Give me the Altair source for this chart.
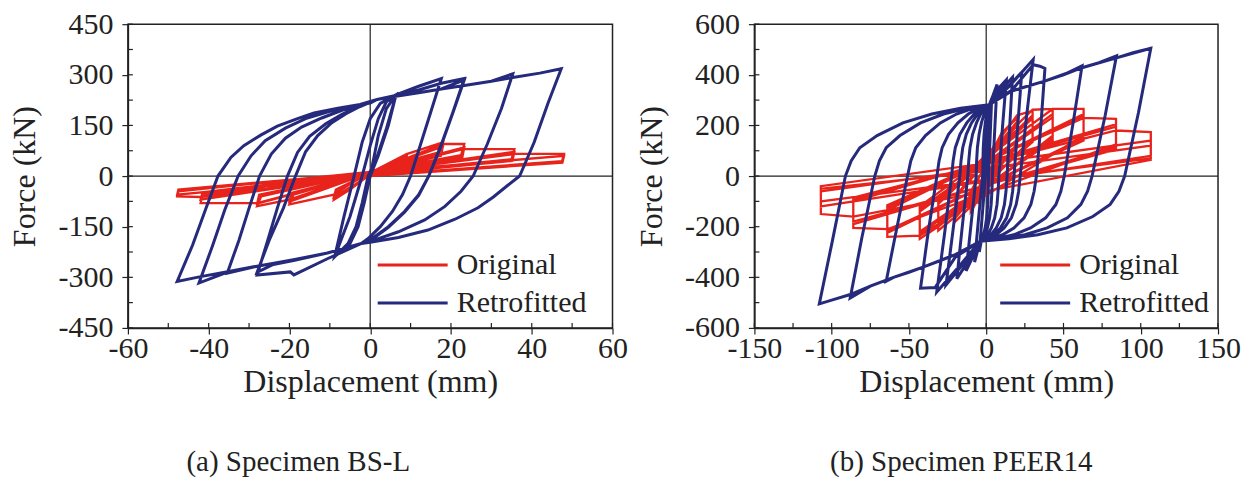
import altair as alt
import pandas as pd

RED = "#e8231c"
BLUE = "#262a7c"
INK = "#222222"
FONT = "Liberation Serif"
SERIES = ["Original", "Retrofitted"]

# ---------------- (a) Specimen BS-L : (displacement mm, force kN) -------------
bsl_original = [
    (0, 0), (5, 40), (9, 62), (8.5, 38), (0, 5), (-5, -40), (-9, -70), (-8.5, -45),
    (0, 8), (9, 58), (8.5, 35), (0, 2), (-9, -62), (-8.5, -40),
    (0, 10), (9, 65), (18, 100), (17, 70), (0, 15), (-9, -55), (-20, -84), (-19, -55),
    (0, 10), (18, 88), (17.5, 60), (0, 10), (-20, -76), (-19.5, -50),
    (0, 10), (18, 95), (23.3, 95), (22.5, 62), (0, 12), (-20, -70), (-28, -89), (-27, -60),
    (0, 12), (23.3, 85), (22.8, 55), (0, 8), (-28, -82), (-27.5, -55),
    (0, 12), (23, 80), (35.7, 80), (35, 50), (0, 8), (-28, -80), (-42, -80), (-41.5, -55),
    (0, 10), (35.7, 72), (35.2, 45), (0, 5), (-42, -70), (-41.5, -48),
    (0, 10), (36, 66), (48, 66), (47.5, 44), (0, 2), (-42, -62), (-47.8, -60), (-47.5, -45),
    (0, 12), (48, 60), (47.6, 40), (0, 0), (-47.8, -55), (-47.5, -40), (0, 10),
]

bsl_retrofitted = [
    (0, 0), (2, 120), (4, 200), (6.4, 241),
    (4, 140), (1.5, 50), (-0.5, 0), (-2, -80), (-3.5, -150), (-5.5, -200), (-8.8, -239),
    (-6.5, -120), (-4, 0), (-2, 100), (0, 170), (2.5, 215), (6.4, 241),
    (4.5, 150), (2, 60), (0, 0), (-1.5, -80), (-3, -150), (-5, -200), (-8.8, -239),
    (-5, -120), (-2, 0), (0, 90), (2, 170), (4, 220), (6.4, 241), (12, 266), (17.6, 289),
    (15, 190), (12.5, 95), (10, 0), (8, -55), (5.5, -105), (2.5, -150), (-0.5, -185), (-2.2, -200),
    (-10.6, -245), (-18.9, -293), (-19.8, -284), (-28, -293),
    (-25.5, -195), (-23, -95), (-20.5, 0), (-18, 70), (-15, 118), (-11, 155), (-7, 183), (-3, 205),
    (1.7, 227), (6, 238), (12, 255), (17.6, 275), (23.3, 289),
    (20.5, 190), (17.5, 90), (14.5, 0), (12, -55), (8.5, -105), (4.5, -150), (0.5, -185), (-2.2, -200),
    (-10.6, -228), (-19, -250), (-24, -262), (-28, -285),
    (-25, -190), (-21.5, -95), (-18.5, 0), (-16, 72), (-13, 120), (-9.5, 158), (-6, 185), (-2.5, 206),
    (1.7, 227), (6, 236), (12, 247), (17.6, 258), (23.3, 285),
    (20.5, 188), (17.5, 88), (14.5, 0), (12, -57), (8.5, -107), (4.5, -152), (0.5, -187), (-2.2, -200),
    (-10.6, -228), (-19, -248), (-28, -267), (-35.4, -288),
    (-32.5, -190), (-30, -95), (-27.4, 0), (-24.5, 65), (-21, 112), (-17, 145), (-12, 172), (-7, 195),
    (-2, 212), (1.7, 227), (6, 236), (12, 247), (17.6, 258), (23.3, 268), (30, 281), (35.3, 303),
    (32.5, 200), (29, 95), (25.5, 0), (22.5, -45), (18.5, -90), (13.5, -130), (7, -165), (1, -190),
    (-2.2, -200), (-10.6, -228), (-19, -248), (-28, -267), (-35, -283), (-42.4, -317),
    (-39, -205), (-36, -100), (-32.7, 0), (-29.5, 60), (-26, 105), (-21, 142), (-16, 170), (-10, 192),
    (-5, 206), (0, 216), (1.7, 227), (6, 236), (12, 247), (17.6, 258), (23.3, 268), (30, 281),
    (35.3, 292), (42, 305), (47.3, 318),
    (44, 215), (40.6, 100), (37, 0), (34, -28), (30.5, -62), (26.7, -94), (21, -128), (14.3, -160),
    (7, -182), (0, -196), (-2.2, -200), (-10.6, -228), (-19, -248), (-28, -267), (-35, -283),
    (-42, -298), (-47.8, -312),
    (-44, -205), (-40.8, -100), (-37.7, 0), (-34.5, 55), (-31.3, 90), (-27, 122), (-23, 148), (-18, 170),
    (-13.9, 187), (-8, 201), (-2.5, 212), (1.7, 227), (6, 236), (12, 247), (17.6, 258), (23.3, 268),
    (30, 281), (35.3, 292), (42, 305), (47.3, 318),
]

bsl_x_labels = [-60, -40, -20, 0, 20, 40, 60]
bsl_x_minor = [-60, -50, -40, -30, -20, -10, 0, 10, 20, 30, 40, 50, 60]
bsl_y_labels = [-450, -300, -150, 0, 150, 300, 450]
bsl_y_minor = [-450, -375, -300, -225, -150, -75, 0, 75, 150, 225, 300, 375, 450]

# ---------------- (b) Specimen PEER14 ----------------------------------------
peer_original = [
    (0, 0), (3, 80), (5, 120), (5, 60), (-3, -60), (-5, -110), (-5, -50),
    (5, 110), (10, 160), (10, 80), (-5, -90), (-10, -140), (-10, -60),
    (10, 150), (10, 90), (-10, -130), (-10, -70),
    (10, 170), (20, 230), (20, 130), (-10, -120), (-20, -180), (-20, -80),
    (20, 215), (20, 120), (-20, -165), (-20, -85),
    (20, 200), (20, 115), (-20, -155), (-20, -90),
    (20, 240), (30, 258), (30, 150), (-20, -160), (-31, -215), (-31, -110),
    (30, 240), (30, 140), (-31, -200), (-31, -105),
    (30, 228), (30, 135), (-31, -190), (-31, -100),
    (30, 262), (43, 265), (43, 160), (-31, -200), (-43, -248), (-43, -140),
    (43, 245), (43, 150), (-43, -230), (-43, -130),
    (43, 232), (43, 140), (-43, -220), (-43, -120),
    (43, 265), (63, 265), (63, 160), (-43, -235), (-64, -240), (-64, -135),
    (63, 245), (63, 150), (-64, -225), (-64, -125),
    (63, 235), (63, 140), (-64, -215), (-64, -115),
    (63, 230), (84, 226), (84, 125), (-64, -210), (-86, -205), (-86, -100),
    (84, 205), (84, 115), (-86, -190), (-86, -95),
    (84, 195), (84, 105), (-86, -180), (-86, -85),
    (84, 180), (106.5, 174), (106.5, 64), (-86, -160), (-107, -150), (-107, -40),
    (106.5, 140), (106.5, 80), (-107, -120), (-107, -60),
    (106.5, 120), (106.5, 70), (-107, -100), (-107, -50), (0, 20),
]

peer_retrofitted = [
    (0, 0), (1.5, 150), (3.5, 300),
    (2.5, 150), (1.5, 0), (1.3, -60), (1, -112), (0.3, -165), (-0.7, -205), (-1.8, -232), (-2.9, -248), (-4.5, -300),
    (-2.5, -150), (-0.5, 0), (-0.4, 60), (-0.25, 112), (0.05, 165), (0.5, 210), (1, 245), (1.5, 268), (2, 282), (4.5, 320), (7, 362),
    (5.5, 180), (4, 0), (3.7, -60), (3.2, -112), (2.2, -165), (0.8, -205), (-0.8, -232), (-2.4, -248), (-4, -258), (-7.5, -340),
    (-5, -170), (-2.3, 0), (-2.1, 60), (-1.9, 112), (-1.4, 165), (-0.6, 210), (0.3, 245), (1.1, 268), (2, 282), (7, 340), (13, 380),
    (10.5, 190), (8.2, 0), (7.7, -60), (7, -112), (5.5, -165), (3.3, -205), (0.9, -232), (-1.6, -248), (-4, -258), (-8, -310), (-13, -375),
    (-9.8, -190), (-6.5, 0), (-6.2, 60), (-5.7, 112), (-4.6, 165), (-3.1, 210), (-1.4, 245), (0.3, 268), (2, 282), (8, 330), (17, 390),
    (15.2, 195), (13.5, 0), (12.8, -60), (11.8, -112), (9.7, -165), (6.5, -205), (3, -232), (-0.5, -248), (-4, -258), (-11, -330), (-19, -405),
    (-15.5, -200), (-11.9, 0), (-11.3, 60), (-10.5, 112), (-8.8, 165), (-6.3, 210), (-3.6, 245), (-0.8, 268), (2, 282), (12, 340), (23, 410),
    (20.5, 205), (18, 0), (17.1, -60), (15.8, -112), (13.2, -165), (9.2, -205), (4.8, -232), (0.4, -248), (-4, -258), (-14, -340), (-26, -430),
    (-21.5, -215), (-17.1, 0), (-16.3, 60), (-15.2, 112), (-12.9, 165), (-9.5, 210), (-5.6, 245), (-1.8, 268), (2, 282), (15, 355), (30.4, 460),
    (26, 230), (22, 0), (21, -60), (19.4, -112), (16.3, -165), (11.6, -205), (6.4, -232), (1.2, -248), (-4, -258), (-18, -360), (-32, -458),
    (-27, -230), (-22.4, 0), (-21.4, 60), (-20, 112), (-17, 165), (-12.6, 210), (-7.8, 245), (-2.9, 268), (2, 282), (16.7, 340), (30.4, 440), (34.7, 434), (38, 425),
    (35.5, 210), (32.5, 0), (31, -60), (28.9, -112), (24.5, -165), (17.9, -205), (10.6, -232), (3.3, -248), (-4, -258), (-20, -320), (-33, -440), (-42.5, -443),
    (-37.5, -220), (-31.9, 0), (-30.5, 60), (-28.5, 112), (-24.4, 165), (-18.3, 210), (-11.6, 245), (-4.8, 268), (2, 282), (16.6, 336), (25, 352), (37.8, 375), (50, 400), (62, 435),
    (56.5, 220), (50.5, 0), (48.3, -60), (45.1, -112), (38.5, -165), (28.7, -205), (17.8, -232), (6.9, -248), (-4, -258), (-20, -310), (-30, -335), (-40, -358), (-50, -380), (-60, -400), (-64.7, -415),
    (-58, -210), (-50.9, 0), (-48.8, 60), (-45.6, 112), (-39.3, 160), (-29.7, 210), (-19.2, 245), (-8.6, 268), (2, 282), (16.6, 336), (37.8, 375), (50, 400), (62, 428), (73, 448), (84.3, 475),
    (77, 240), (68.5, 0), (65.6, -60), (61.3, -112), (52.6, -165), (39.5, -205), (25, -232), (10.5, -248), (-4, -258), (-20, -310), (-40, -358), (-60, -400), (-75, -435), (-88, -482),
    (-80.5, -245), (-72.1, 0), (-69.1, 60), (-64.7, 112), (-55.8, 160), (-42.5, 210), (-27.6, 245), (-12.8, 268), (2, 282), (16.6, 336), (37.8, 375), (62, 428), (84.3, 467), (95, 487), (106.5, 505),
    (98.5, 250), (89.6, 0), (85.9, -60), (80.2, -112), (69, -160), (52.2, -205), (33.4, -232), (14.7, -248), (-4, -258), (-20, -310), (-40, -358), (-60, -400), (-75, -435), (-88, -468), (-100, -490), (-108, -505),
    (-99.5, -255), (-91.1, 0), (-87.4, 60), (-81.8, 112), (-70.6, 160), (-53.9, 210), (-35.2, 245), (-16.6, 268), (2, 282), (16.6, 336), (37.8, 375), (62, 428), (84.3, 467), (106.5, 505),
]

peer_x_labels = [-150, -100, -50, 0, 50, 100, 150]
peer_x_minor = [-150, -125, -100, -75, -50, -25, 0, 25, 50, 75, 100, 125, 150]
peer_y_labels = [-600, -400, -200, 0, 200, 400, 600]
peer_y_minor = [-600, -500, -400, -300, -200, -100, 0, 100, 200, 300, 400, 500, 600]

HYPHEN = "datum.value < 0 ? '-' + abs(datum.value) : '' + datum.value"


def to_df(pairs, name):
    return pd.DataFrame({
        "x": [p[0] for p in pairs],
        "F": [p[1] for p in pairs],
        "series": name,
        "k": list(range(len(pairs))),
    })


def panel(orig, retro, xl, xm, yl, ym, W, H, caption, dx, legx, legy, laboff):
    xs = alt.Scale(domain=[xl[0], xl[-1]], nice=False, zero=False)
    ys = alt.Scale(domain=[yl[0], yl[-1]], nice=False, zero=False)
    X = alt.X("x:Q", scale=xs, axis=alt.Axis(values=xl, title="Displacement (mm)", labelExpr=HYPHEN,
                                              labelOverlap=False, labelFlush=False,
                                              labelPadding=0, titlePadding=3))
    Y = alt.Y("F:Q", scale=ys, axis=alt.Axis(values=yl, title="Force (kN)", labelExpr=HYPHEN,
                                              labelOverlap=False, labelFlush=False,
                                              labelPadding=9, titlePadding=16))
    C = alt.Color("series:N",
                  scale=alt.Scale(domain=SERIES, range=[RED, BLUE]),
                  legend=alt.Legend(orient="none", legendX=legx, legendY=legy, title=None,
                                    symbolType="M-2,0H2", symbolSize=1225, symbolStrokeWidth=3,
                                    labelFont=FONT, labelFontSize=30, labelColor=INK,
                                    rowPadding=4, labelOffset=laboff))
    red = alt.Chart(to_df(orig, "Original")).mark_line(strokeWidth=2.3).encode(
        x=X, y=Y, color=C, order="k:Q")
    blue = alt.Chart(to_df(retro, "Retrofitted")).mark_line(strokeWidth=3).encode(
        x=X, y=Y, color=C, order="k:Q")
    zx = alt.Chart(pd.DataFrame({"x": [0]})).mark_rule(color=INK, strokeWidth=1.2).encode(x=X)
    zy = alt.Chart(pd.DataFrame({"F": [0]})).mark_rule(color=INK, strokeWidth=1.2).encode(y=Y)
    ty = alt.Chart(pd.DataFrame({"F": ym})).mark_rule(color=INK, strokeWidth=1.2).encode(
        y=Y, x=alt.value(0), x2=alt.value(5))
    tx = alt.Chart(pd.DataFrame({"x": xm})).mark_rule(color=INK, strokeWidth=1.2).encode(
        x=X, y=alt.value(H), y2=alt.value(H - 5))
    return alt.layer(zx, zy, ty, tx, red, blue).properties(
        width=W, height=H,
        title=alt.TitleParams(caption, orient="bottom", anchor="middle", dx=dx, offset=50,
                              font=FONT, fontSize=29, fontWeight="normal", color=INK))


left = panel(bsl_original, bsl_retrofitted, bsl_x_labels, bsl_x_minor, bsl_y_labels, bsl_y_minor,
             485, 304, "(a) Specimen BS-L", -72, 266, 222, 25)
right = panel(peer_original, peer_retrofitted, peer_x_labels, peer_x_minor, peer_y_labels, peer_y_minor,
              464, 304, "(b) Specimen PEER14", -25, 262, 222, 25)

chart = alt.hconcat(left, right, spacing=6).resolve_scale(
    color="independent").resolve_legend(color="independent").properties(
    padding=0).configure_view(
    stroke=INK, strokeWidth=1.5).configure_axis(
    domainColor=INK, domainWidth=1.5, tickColor=INK, tickWidth=1.2, tickSize=6,
    labelFont=FONT, labelFontSize=30, labelColor=INK,
    titleFont=FONT, titleFontSize=32, titleFontWeight="normal", titleColor=INK, grid=False)

chart.save("out.html", embed_options={"renderer": "svg", "actions": False})
